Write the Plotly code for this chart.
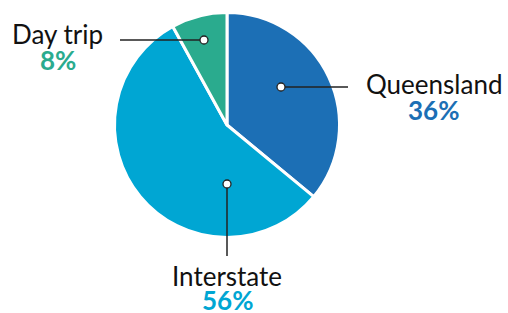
import plotly.graph_objects as go

labels = ["Queensland", "Interstate", "Day trip"]
values = [36, 56, 8]
pct_labels = ["36%", "56%", "8%"]
colors = ["#1c6fb5", "#00a6d3", "#2aab8e"]

# Marker (dot) positions and leader line ends, in pixel coords
dot_x = [281, 227, 204]
dot_y = [87, 184, 40]
line_end_x = [348, 227, 120]
line_end_y = [87, 256, 40]
# Label positions
name_x = [433.5, 227, 57.5]
name_y = [84, 276, 34]
pct_y = [110, 300, 60]

W, H = 508, 313
cx, cy, r = 227, 125, 112.5

fig = go.Figure()
fig.add_trace(go.Pie(
    labels=labels, values=values, sort=False, direction="clockwise", rotation=0,
    marker=dict(colors=colors, line=dict(color="white", width=3)),
    textinfo="none", hoverinfo="label+percent", showlegend=False,
    domain=dict(x=[(cx - r) / W, (cx + r) / W], y=[(H - cy - r) / H, (H - cy + r) / H]),
))
# invisible trace to create the pixel-mapped cartesian axes
fig.add_trace(go.Scatter(x=[0, W], y=[0, H], mode="markers", marker=dict(opacity=0),
                         hoverinfo="skip", showlegend=False))

for i in range(len(labels)):
    fig.add_shape(type="line", xref="x", yref="y", layer="above",
                  x0=dot_x[i], y0=dot_y[i], x1=line_end_x[i], y1=line_end_y[i],
                  line=dict(color="#222222", width=1.5))
for i in range(len(labels)):
    fig.add_shape(type="circle", xref="x", yref="y", layer="above",
                  x0=dot_x[i] - 4, x1=dot_x[i] + 4, y0=dot_y[i] - 4, y1=dot_y[i] + 4,
                  fillcolor="white", line=dict(color="#222222", width=1.3))

for i in range(len(labels)):
    fig.add_annotation(x=name_x[i], y=name_y[i], xref="x", yref="y", text=labels[i],
                       showarrow=False, xanchor="center", yanchor="middle",
                       font=dict(family="Lato", size=26, color="#111111"))
    fig.add_annotation(x=name_x[i], y=pct_y[i], xref="x", yref="y", text="<b>" + pct_labels[i] + "</b>",
                       showarrow=False, xanchor="center", yanchor="middle",
                       font=dict(family="Lato", size=26, color=colors[i]))

fig.update_layout(
    width=W, height=H, margin=dict(l=0, r=0, t=0, b=0),
    paper_bgcolor="white", plot_bgcolor="rgba(0,0,0,0)",
    xaxis=dict(range=[0, W], visible=False, fixedrange=True),
    yaxis=dict(range=[H, 0], visible=False, fixedrange=True),
)
fig.write_html("out.html", config={"displayModeBar": False},
               post_script="document.body.style.margin='0';")
